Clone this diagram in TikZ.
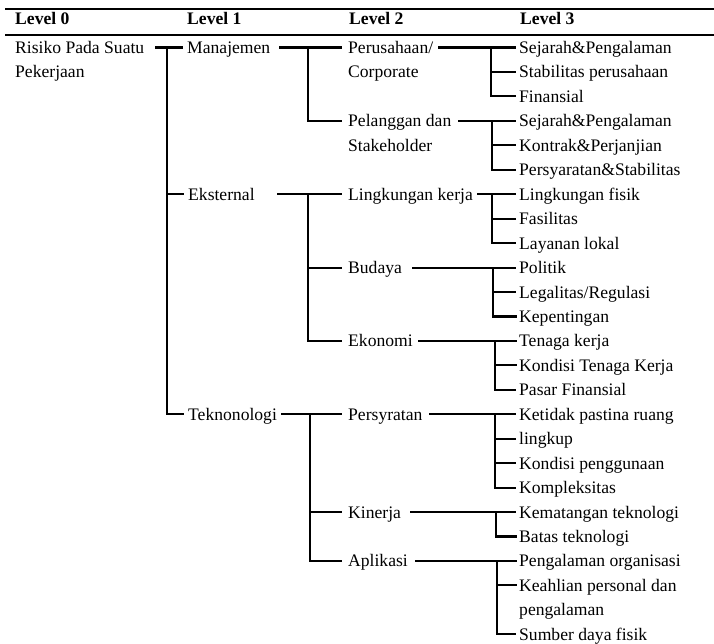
\documentclass[tikz,border=0pt]{standalone}
\usepackage{fontspec}
\setmainfont{Liberation Serif}
\begin{document}
\begin{tikzpicture}[x=1pt,y=-1pt,
  txt/.style={anchor=west, inner sep=0pt, text height=12pt, text depth=0pt, font=\fontsize{17.6}{20}\selectfont},
  hdr/.style={anchor=west, inner sep=0pt, text height=12pt, text depth=0pt, font=\fontsize{17.6}{20}\selectfont\bfseries},
  conn/.style={line width=2.1pt, line join=miter},
  hrule/.style={line width=2.6pt}]
\useasboundingbox (0,0) rectangle (714,644);
% header rules
\coordinate (ruleTL) at (5,9);
\coordinate (ruleTR) at (714,9);
\coordinate (ruleBL) at (5,35);
\coordinate (ruleBR) at (714,35);
\draw[hrule] (ruleTL) -- (ruleTR);
\draw[hrule] (ruleBL) -- (ruleBR);
% headers
\node[hdr] (h0) at (15,18.5) {Level 0};
\node[hdr] (h1) at (187,18.5) {Level 1};
\node[hdr] (h2) at (349,18.5) {Level 2};
\node[hdr] (h3) at (520,18.5) {Level 3};
% level 0
\node[txt] (ris) at (15,47.5) {Risiko Pada Suatu};
\node[txt] (ris2) at (15,71.95) {Pekerjaan};
% level 1
\node[txt] (man) at (187,47.5) {Manajemen};
\node[txt] (eks) at (188,194.2) {Eksternal};
\node[txt] (tek) at (188,414.25) {Teknonologi};
% level 2
\node[txt] (per) at (348,47.5) {Perusahaan/};
\node[txt] (per2) at (348,71.95) {Corporate};
\node[txt] (pel) at (348,120.85) {Pelanggan dan};
\node[txt] (pel2) at (348,145.3) {Stakeholder};
\node[txt] (lk) at (348,194.2) {Lingkungan kerja};
\node[txt] (bud) at (348,267.55) {Budaya};
\node[txt] (eko) at (348,340.9) {Ekonomi};
\node[txt] (pers) at (348,414.25) {Persyratan};
\node[txt] (kin) at (348,512.05) {Kinerja};
\node[txt] (apl) at (348,560.95) {Aplikasi};
% level 3
\node[txt] (a1) at (519,47.5) {Sejarah\&Pengalaman};
\node[txt] (a2) at (519,71.95) {Stabilitas perusahaan};
\node[txt] (a3) at (519,96.4) {Finansial};
\node[txt] (b1) at (519,120.85) {Sejarah\&Pengalaman};
\node[txt] (b2) at (519,145.3) {Kontrak\&Perjanjian};
\node[txt] (b3) at (519,169.75) {Persyaratan\&Stabilitas};
\node[txt] (c1) at (519,194.2) {Lingkungan fisik};
\node[txt] (c2) at (519,218.65) {Fasilitas};
\node[txt] (c3) at (519,243.1) {Layanan lokal};
\node[txt] (d1) at (519,267.55) {Politik};
\node[txt] (d2) at (519,292.0) {Legalitas/Regulasi};
\node[txt] (d3) at (519,316.45) {Kepentingan};
\node[txt] (e1) at (519,340.9) {Tenaga kerja};
\node[txt] (e2) at (519,365.35) {Kondisi Tenaga Kerja};
\node[txt] (e3) at (519,389.8) {Pasar Finansial};
\node[txt] (f1) at (519,414.25) {Ketidak pastina ruang};
\node[txt] (f2) at (519,438.7) {lingkup};
\node[txt] (f3) at (519,463.15) {Kondisi penggunaan};
\node[txt] (f4) at (519,487.6) {Kompleksitas};
\node[txt] (g1) at (519,512.05) {Kematangan teknologi};
\node[txt] (g2) at (519,536.5) {Batas teknologi};
\node[txt] (k1) at (519,560.95) {Pengalaman organisasi};
\node[txt] (k2) at (519,585.4) {Keahlian personal dan};
\node[txt] (k3) at (519,609.85) {pengalaman};
\node[txt] (k4) at (519,634.3) {Sumber daya fisik};
% ---- connectors level 0 -> 1
\coordinate (sRis) at (155,47.5);
\coordinate (jRis) at (167,47.5);
\draw[conn] (sRis) -- ([xshift=-4pt]man.west);
\draw[conn] (jRis) |- ([xshift=-4pt]tek.west);
\draw[conn] (jRis |- eks.west) -- ([xshift=-4pt]eks.west);
% ---- level 1 -> 2
\coordinate (sMan) at (279,47.5);
\coordinate (jMan) at (308,47.5);
\draw[conn] (sMan) -- ([xshift=-6pt]per.west);
\draw[conn] (jMan) |- ([xshift=-6pt]pel.west);
\coordinate (sEks) at (277,194.2);
\coordinate (jEks) at (308,194.2);
\draw[conn] (sEks) -- ([xshift=-6pt]lk.west);
\draw[conn] (jEks) |- ([xshift=-6pt]eko.west);
\draw[conn] (jEks |- bud.west) -- ([xshift=-6pt]bud.west);
\coordinate (sTek) at (281,414.25);
\coordinate (jTek) at (310,414.25);
\draw[conn] (sTek) -- ([xshift=-6pt]pers.west);
\draw[conn] (jTek) |- ([xshift=-6pt]apl.west);
\draw[conn] (jTek |- kin.west) -- ([xshift=-6pt]kin.west);
% ---- level 2 -> 3
\coordinate (sPer) at (438,47.5);
\coordinate (jPer) at (491,47.5);
\draw[conn] (sPer) -- ([xshift=-3pt]a1.west);
\draw[conn] (jPer) |- ([xshift=-3pt]a3.west);
\draw[conn] (jPer |- a2.west) -- ([xshift=-3pt]a2.west);
\coordinate (sPel) at (458,120.85);
\coordinate (jPel) at (492,120.85);
\draw[conn] (sPel) -- ([xshift=-3pt]b1.west);
\draw[conn] (jPel) |- ([xshift=-3pt]b3.west);
\draw[conn] (jPel |- b2.west) -- ([xshift=-3pt]b2.west);
\coordinate (sLk) at (477,194.2);
\coordinate (jLk) at (492,194.2);
\draw[conn] (sLk) -- ([xshift=-3pt]c1.west);
\draw[conn] (jLk) |- ([xshift=-3pt]c3.west);
\draw[conn] (jLk |- c2.west) -- ([xshift=-3pt]c2.west);
\coordinate (sBud) at (412,267.55);
\coordinate (jBud) at (493,267.55);
\draw[conn] (sBud) -- ([xshift=-3pt]d1.west);
\draw[conn] (jBud) |- ([xshift=-2pt]d3.west);
\draw[conn] (jBud |- d2.west) -- ([xshift=-3pt]d2.west);
\coordinate (sEko) at (418,340.9);
\coordinate (jEko) at (495,340.9);
\draw[conn] (sEko) -- ([xshift=-2pt]e1.west);
\draw[conn] (jEko) |- ([xshift=-3pt]e3.west);
\draw[conn] (jEko |- e2.west) -- ([xshift=-2pt]e2.west);
\coordinate (sPers) at (429,414.25);
\coordinate (jPers) at (495,414.25);
\draw[conn] (sPers) -- ([xshift=-3pt]f1.west);
\draw[conn] (jPers) |- ([xshift=-3pt]f4.west);
\draw[conn] (jPers |- f2.west) -- ([xshift=-3pt]f2.west);
\draw[conn] (jPers |- f3.west) -- ([xshift=-3pt]f3.west);
\coordinate (sKin) at (410,512.05);
\coordinate (jKin) at (496,512.05);
\draw[conn] (sKin) -- ([xshift=-3pt]g1.west);
\draw[conn] (jKin) |- ([xshift=-2pt]g2.west);
\coordinate (sApl) at (415,560.95);
\coordinate (jApl) at (497,560.95);
\draw[conn] (sApl) -- ([xshift=-2pt]k1.west);
\draw[conn] (jApl) |- ([xshift=-3pt]k4.west);
\draw[conn] (jApl |- k2.west) -- ([xshift=-2pt]k2.west);
\end{tikzpicture}
\end{document}
